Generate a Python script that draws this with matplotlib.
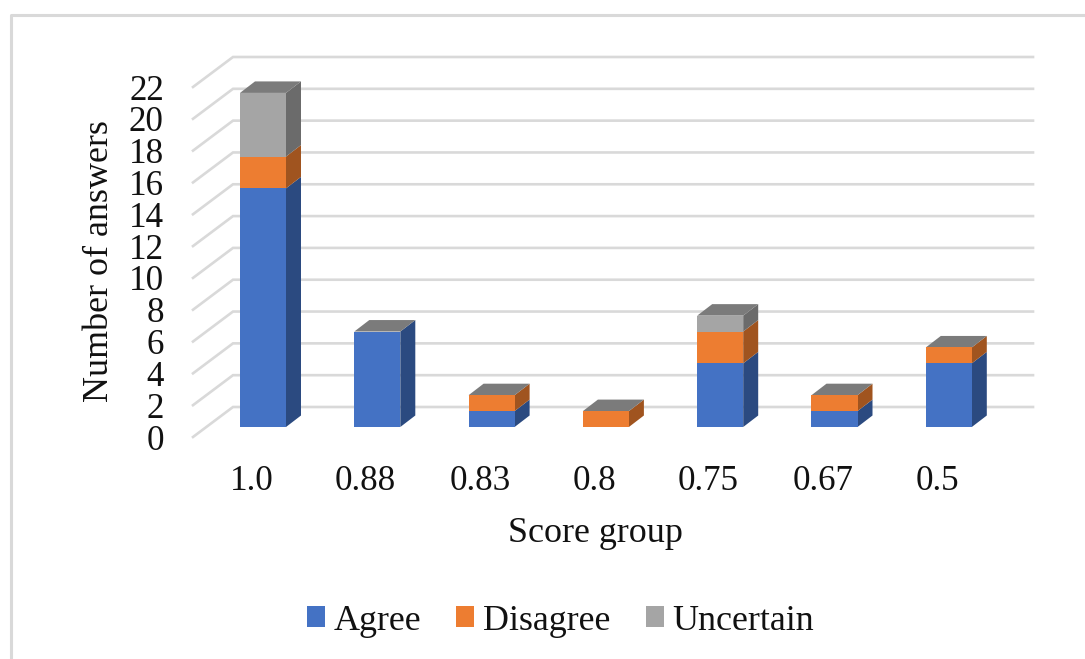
import matplotlib
matplotlib.use("Agg")
import matplotlib.pyplot as plt
import numpy as np
from matplotlib.lines import Line2D
from matplotlib.patches import Patch, Polygon

plt.rcParams['font.family'] = ['Liberation Serif', 'DejaVu Serif']

groups = ["1.0", "0.88", "0.83", "0.8", "0.75", "0.67", "0.5"]
agree = [15, 6, 1, 0, 4, 1, 4]
disagree = [2, 0, 1, 1, 2, 1, 1]
uncertain = [4, 0, 0, 0, 1, 0, 0]
series_names = ["Agree", "Disagree", "Uncertain"]

front_colors = ["#4472C4", "#ED7D31", "#A5A5A5"]
side_colors = ["#2B4A80", "#A0541F", "#6B6B6B"]
top_color = "#7B7B7B"
grid_color = "#D9D9D9"
tick_pt = 35 * 72 / 100
label_pt = 36 * 72 / 100

W, H = 1085, 659
fig = plt.figure(figsize=(W / 100, H / 100), dpi=100, facecolor="white")

# outer chart border, only top and left are visible
fig.add_artist(Line2D([10.5 / W, 10.5 / W, 1], [0, 1 - 14.5 / H, 1 - 14.5 / H],
                      color=grid_color, lw=2.2))

# axes box: left/right are the wall limits, bottom/top are ticks 0 and 22
left, right, top, bottom = 193, 1033, 87, 437
ax = fig.add_axes([left / W, 1 - bottom / H, (right - left) / W, (bottom - top) / H])
slot = 114.3
ax.set_xlim((left - 253) / slot, (right - 253) / slot)
ax.set_ylim(0, 22)
unit = (bottom - top) / 22
px_x = 1 / slot
px_y = 1 / unit

for s in ax.spines.values():
    s.set_visible(False)
ax.patch.set_visible(False)

# sheared back wall: tick side to wall side, then the long horizontal line
wall_dx = (233 - left) * px_x
wall_dy = 30 * px_y
x0 = ax.get_xlim()[0]
x1 = ax.get_xlim()[1]
for v in range(0, 24, 2):
    ax.plot([x0, x0 + wall_dx, x1], [v, v + wall_dy, v + wall_dy], color=grid_color,
            lw=1.9, clip_on=False, zorder=1, solid_joinstyle="miter")

# 3D look of the bars: front face + side face + lid
bar_shift = 10 * px_x
half_w = 23 * px_x
depth_x = 15 * px_x
depth_y = 11.5 * px_y
floor = 10 * px_y
stack = np.array([agree, disagree, uncertain])
for i in range(len(groups)):
    xl = i + bar_shift - half_w
    xr = i + bar_shift + half_w
    base = 0
    for k in range(3):
        val = stack[k, i]
        if val == 0:
            continue
        y_lo = base + floor
        y_hi = base + val + floor
        ax.add_patch(Polygon([(xr, y_lo), (xr + depth_x, y_lo + depth_y),
                              (xr + depth_x, y_hi + depth_y), (xr, y_hi)],
                             facecolor=side_colors[k], edgecolor="none", clip_on=False, zorder=3))
        ax.bar(xl, val, width=xr - xl, bottom=y_lo, align="edge", color=front_colors[k],
               clip_on=False, zorder=4)
        base += val
    y_top = base + floor
    ax.add_patch(Polygon([(xl, y_top), (xl + depth_x, y_top + depth_y),
                          (xr + depth_x, y_top + depth_y), (xr, y_top)],
                         facecolor=top_color, edgecolor="none", clip_on=False, zorder=3))

ax.set_xticks(np.arange(len(groups)) - 0.015, groups)
ax.set_yticks(np.arange(0, 24, 2))
ax.tick_params(axis="both", length=0, labelsize=tick_pt, colors="#111111")
ax.tick_params(axis="x", pad=20)
ax.tick_params(axis="y", pad=21)

ax.set_xlabel("Score group", fontsize=label_pt, color="#111111", labelpad=0)
ax.xaxis.set_label_coords((595 - left) / (right - left), -(534 - bottom) / (bottom - top),
                          transform=ax.transAxes)
ax.xaxis.label.set_va("center")
ax.set_ylabel("Number of answers", fontsize=label_pt, color="#111111")
ax.yaxis.set_label_coords((100 - left) / (right - left), (bottom - 261) / (bottom - top),
                          transform=ax.transAxes)
ax.yaxis.label.set_va("center")

handles = [Patch(facecolor=c, edgecolor="none", label=n) for c, n in zip(front_colors, series_names)]
fig.legend(handles=handles, ncol=3, frameon=False, fontsize=label_pt,
           loc="center", bbox_to_anchor=(560.5 / W, 1 - 621 / H),
           handlelength=0.5, handleheight=0.5, handletextpad=0.25, columnspacing=0.97,
           labelcolor="#111111", borderpad=0, borderaxespad=0)

fig.savefig("out.png", dpi=100)
